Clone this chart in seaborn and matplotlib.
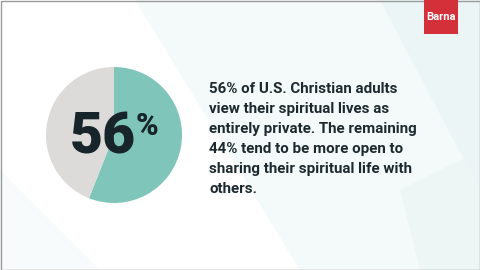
import matplotlib
matplotlib.use("Agg")
import matplotlib.pyplot as plt
import seaborn as sns
from matplotlib.patches import Polygon, Rectangle

labels = ["Private", "Open to sharing"]
values = [56, 44]
colors = ["#80c5b9", "#dcdbd9"]
big_label = "56"
big_suffix = "%"
body_lines = [
    "56% of U.S. Christian adults",
    "view their spiritual lives as",
    "entirely private. The remaining",
    "44% tend to be more open to",
    "sharing their spiritual life with",
    "others.",
]
brand = "Barna"

sns.set_theme(style="white")
plt.rcParams['font.family'] = ['Roboto', 'DejaVu Sans']

W, H = 480, 270
fig = plt.figure(figsize=(4.8, 2.7), dpi=100)
fig.patch.set_facecolor("white")

# background faint polygons
bg = fig.add_axes([0, 0, 1, 1], zorder=0)
bg.set_xlim(0, W); bg.set_ylim(H, 0); bg.axis("off")
polys = [
    ([(135, 0), (480, 0), (480, 270), (300, 270)], "#f3f9f9", 0.9),
    ([(380, 0), (480, 0), (480, 190)], "#eaf4f4", 0.8),
    ([(400, 190), (480, 150), (480, 270), (420, 270)], "#ecf5f5", 0.8),
    ([(0, 170), (100, 270), (0, 270)], "#f7fafa", 0.8),
]
for pts, c, a in polys:
    bg.add_patch(Polygon(pts, closed=True, facecolor=c, edgecolor="none", alpha=a))

# pie
cx, cy, r = 114, 135, 68
ax = fig.add_axes([(cx - r) / W, 1 - (cy + r) / H, 2 * r / W, 2 * r / H], zorder=1)
ax.pie(values, colors=colors, startangle=90, counterclock=False,
       wedgeprops=dict(linewidth=0))
ax.set_xlim(-1, 1); ax.set_ylim(-1, 1)
ax.set_aspect("equal")
ax.set_facecolor("none")

# overlay for text
ov = fig.add_axes([0, 0, 1, 1], zorder=2)
ov.set_xlim(0, W); ov.set_ylim(H, 0); ov.axis("off")
ov.patch.set_alpha(0)
ov.add_patch(Rectangle((0.5, 0.5), W - 1, H - 1, fill=False, edgecolor="#9a9a9a", lw=1))
ov.add_patch(Rectangle((424, 0), 34, 34, facecolor="#d3303a", edgecolor="none"))
ov.text(441, 17, brand, color="white", fontsize=8, fontweight="bold",
        ha="center", va="center")

ov.text(136, 153, big_label, color="#17252b", fontsize=41, fontweight="black",
        ha="right", va="baseline")
ov.text(136, 135, big_suffix, color="#17252b", fontsize=22, fontweight="black",
        ha="left", va="baseline")

for i, line in enumerate(body_lines):
    ov.text(209, 89 + 20 * i, line, color="#1c2a30", fontsize=10.9,
            fontweight="bold", ha="left", va="center")

fig.savefig("out.png", dpi=100)
